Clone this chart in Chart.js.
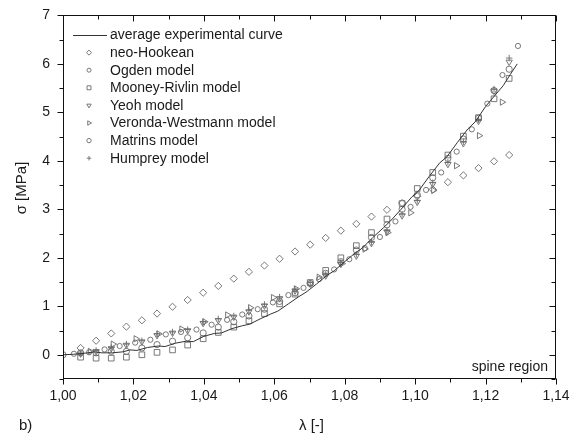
<!DOCTYPE html>
<html><head><meta charset="utf-8">
<script src="https://cdn.jsdelivr.net/npm/chart.js@4.4.1/dist/chart.umd.min.js"></script>
<style>html,body{margin:0;padding:0;background:#fff}canvas{display:block}</style>
</head><body>
<canvas id="c" width="577" height="441"></canvas>
<script>
// ---- data ----
const expLambda = [1.000,1.003,1.006,1.009,1.011,1.014,1.017,1.019,1.021,1.024,1.027,1.029,1.032,1.035,1.037,1.040,1.043,1.045,1.048,1.051,1.053,1.056,1.059,1.061,1.064,1.067,1.069,1.072,1.075,1.077,1.080,1.083,1.085,1.088,1.091,1.093,1.096,1.099,1.101,1.104,1.107,1.109,1.112,1.115,1.117,1.120,1.123,1.125,1.127,1.129];
const expSigma  = [0.00,0.01,0.03,0.06,0.04,0.04,0.06,0.10,0.09,0.15,0.18,0.17,0.24,0.28,0.27,0.38,0.44,0.45,0.54,0.60,0.63,0.74,0.84,0.90,1.05,1.20,1.29,1.46,1.64,1.73,1.92,2.10,2.20,2.42,2.62,2.76,3.00,3.25,3.38,3.68,3.96,4.08,4.38,4.66,4.80,5.12,5.38,5.55,5.78,6.00];

const gridLambda = [1.0050,1.0094,1.0137,1.0180,1.0224,1.0267,1.0311,1.0354,1.0398,1.0441,1.0485,1.0528,1.0572,1.0615,1.0659,1.0702,1.0746,1.0789,1.0833,1.0876,1.0920,1.0963,1.1006,1.1050,1.1093,1.1137,1.1180,1.1224,1.1267];
const neoHookean   = [0.14,0.29,0.44,0.58,0.71,0.85,0.99,1.13,1.28,1.42,1.57,1.71,1.84,1.98,2.13,2.27,2.41,2.56,2.70,2.85,2.99,3.13,3.27,3.41,3.56,3.70,3.85,3.99,4.12];
const mooneyRivlin = [-0.05,-0.07,-0.07,-0.05,0.00,0.05,0.10,0.20,0.33,0.46,0.57,0.70,0.85,1.05,1.25,1.49,1.74,2.00,2.25,2.52,2.80,3.12,3.43,3.76,4.12,4.51,4.89,5.28,5.70];
const yeoh         = [0.02,0.07,0.13,0.20,0.27,0.40,0.45,0.50,0.65,0.71,0.78,0.89,1.01,1.16,1.32,1.46,1.63,1.87,2.04,2.30,2.54,2.87,3.15,3.52,3.93,4.36,4.82,5.44,6.04];
const humprey      = [0.03,0.09,0.15,0.22,0.29,0.43,0.47,0.52,0.68,0.74,0.80,0.92,1.04,1.19,1.35,1.49,1.66,1.90,2.07,2.32,2.56,2.90,3.18,3.55,3.97,4.39,4.85,5.48,6.12];
const matrinsLambda = [1.0000,1.0050,1.0094,1.0137,1.0180,1.0224,1.0267,1.0311,1.0354,1.0398,1.0441,1.0485,1.0528,1.0572,1.0615,1.0659,1.0702,1.0746,1.0789,1.0833,1.0876,1.0920,1.0963,1.1006,1.1050,1.1093,1.1137,1.1180,1.1224,1.1267];
const matrins      = [0.00,0.04,0.04,0.07,0.07,0.14,0.21,0.28,0.35,0.45,0.57,0.68,0.80,0.94,1.10,1.28,1.47,1.68,1.92,2.16,2.42,2.68,3.00,3.30,3.65,4.05,4.45,4.88,5.45,5.89];

const ogdenLambda = [1.0031,1.0074,1.0118,1.0161,1.0205,1.0248,1.0292,1.0335,1.0379,1.0422,1.0466,1.0509,1.0553,1.0596,1.0640,1.0683,1.0727,1.0770,1.0813,1.0857,1.0900,1.0944,1.0987,1.1031,1.1074,1.1118,1.1161,1.1205,1.1248,1.1292];
const ogden       = [0.02,0.05,0.11,0.18,0.25,0.31,0.42,0.47,0.52,0.62,0.72,0.83,0.94,1.08,1.23,1.38,1.56,1.76,1.97,2.20,2.43,2.75,3.05,3.40,3.76,4.19,4.65,5.18,5.77,6.37];

const vwLambda = [1.0077,1.0142,1.0207,1.0272,1.0337,1.0402,1.0467,1.0532,1.0597,1.0662,1.0727,1.0792,1.0857,1.0922,1.0987,1.1052,1.1117,1.1182,1.1247];
const verondaWestmann = [0.07,0.22,0.33,0.43,0.53,0.68,0.82,0.97,1.18,1.36,1.60,1.88,2.18,2.52,2.93,3.39,3.90,4.52,5.21];

const xTickValues = [1.00,1.02,1.04,1.06,1.08,1.10,1.12,1.14];
const xTickLabels = ['1,00','1,02','1,04','1,06','1,08','1,10','1,12','1,14'];
const yTickValues = [0,1,2,3,4,5,6,7];
const yTickLabels = ['0','1','2','3','4','5','6','7'];

// ---- chart ----
const FONT = '"Liberation Sans", Arial, Helvetica, sans-serif';
const MK = '#6a6a6a';
const pts = (xs, ys) => xs.map((x, i) => ({x, y: ys[i]}));
function markerSet(label, xs, ys, style, radius, rotation) {
  return { label, data: pts(xs, ys), pointStyle: style, pointRadius: radius, pointRotation: rotation || 0,
    borderColor: MK, backgroundColor: 'rgba(255,255,255,0)', pointBorderWidth: 0.9, showLine: false,
    legendRadius: Math.max(2, radius * 0.7) };
}
const datasets = [
  { label: 'average experimental curve', data: pts(expLambda, expSigma), showLine: true, pointRadius: 0,
    borderColor: '#333333', borderWidth: 1, tension: 0, isLine: true },
  markerSet('neo-Hookean', gridLambda, neoHookean, 'rectRot', 3.6),
  markerSet('Ogden model', ogdenLambda, ogden, 'circle', 2.6),
  markerSet('Mooney-Rivlin model', gridLambda, mooneyRivlin, 'rect', 4.0),
  markerSet('Yeoh model', gridLambda, yeoh, 'triangle', 3.6, 180),
  markerSet('Veronda-Westmann model', vwLambda, verondaWestmann, 'triangle', 3.6, 90),
  markerSet('Matrins model', matrinsLambda, matrins, 'circle', 3.1),
  markerSet('Humprey model', gridLambda, humprey, 'cross', 3.2)
];

function findLabel(vals, labels, v) {
  for (let i = 0; i < vals.length; i++) if (Math.abs(vals[i] - v) < 1e-6) return labels[i];
  return '';
}

const decorPlugin = {
  id: 'decor',
  afterDraw(chart) {
    const {ctx, chartArea: a, scales: {x, y}} = chart;
    ctx.save();
    ctx.strokeStyle = '#111'; ctx.lineWidth = 1;
    const L = Math.round(a.left) + 0.5, R = Math.round(a.right) - 0.5, T = Math.round(a.top) + 0.5, B = Math.round(a.bottom) - 0.5;
    ctx.strokeRect(L, T, R - L, B - T);
    ctx.beginPath();
    for (let i = 0; i <= 14; i++) {
      const v = 1 + i * 0.01;
      const px = Math.round(x.getPixelForValue(v)) + 0.5;
      const major = i % 2 === 0;
      ctx.moveTo(px, B); ctx.lineTo(px, B + (major ? 6 : 4));
      ctx.moveTo(px, T); ctx.lineTo(px, T + (major ? 6 : 4));
    }
    for (let i = 0; i <= 15; i++) {
      const v = -0.5 + i * 0.5;
      const py = Math.round(y.getPixelForValue(v)) + 0.5;
      const major = Math.abs(v - Math.round(v)) < 1e-6;
      ctx.moveTo(L, py); ctx.lineTo(L - (major ? 6 : 4), py);
      ctx.moveTo(R, py); ctx.lineTo(R - (major ? 6 : 4), py);
    }
    ctx.stroke();

    // legend
    ctx.font = '14px ' + FONT;
    ctx.textBaseline = 'middle';
    ctx.textAlign = 'left';
    chart.data.datasets.forEach((ds, i) => {
      const yy = 35 + i * 17.6;
      if (ds.isLine) {
        ctx.strokeStyle = '#333'; ctx.lineWidth = 1;
        ctx.beginPath(); ctx.moveTo(73, Math.round(yy) + 0.5); ctx.lineTo(107, Math.round(yy) + 0.5); ctx.stroke();
      } else {
        ctx.strokeStyle = MK; ctx.lineWidth = 0.9;
        ctx.fillStyle = 'rgba(255,255,255,0)';
        Chart.helpers.drawPoint(ctx, {pointStyle: ds.pointStyle, rotation: ds.pointRotation, radius: ds.legendRadius, borderWidth: 0.9}, 89, yy);
      }
      ctx.fillStyle = '#1a1a1a';
      ctx.fillText(ds.label, 110, yy + 0.5);
    });

    // texts
    ctx.fillStyle = '#1a1a1a';
    ctx.textAlign = 'right';
    ctx.fillText('spine region', a.right - 8, a.bottom - 12);
    ctx.font = '15px ' + FONT;
    ctx.textAlign = 'left';
    ctx.fillText('b)', 19, 426);
    ctx.textAlign = 'center';
    ctx.fillText('\u03bb [-]', (a.left + a.right) / 2 + 2, 426);
    ctx.save();
    ctx.translate(22, 188);
    ctx.rotate(-Math.PI / 2);
    ctx.fillText('\u03c3 [MPa]', 0, 0);
    ctx.restore();
    ctx.restore();
  }
};

new Chart(document.getElementById('c'), {
  type: 'scatter',
  data: { datasets },
  options: {
    responsive: false, animation: false, devicePixelRatio: 1,
    layout: { padding: { top: 14, right: 21, left: 0, bottom: 0 } },
    plugins: { legend: { display: false }, tooltip: { enabled: false } },
    scales: {
      x: {
        type: 'linear', min: 1.0, max: 1.14,
        grid: { display: false, drawTicks: true, tickLength: 6 },
        border: { display: false },
        ticks: { stepSize: 0.01, autoSkip: false, maxRotation: 0, padding: 3, color: '#1a1a1a',
          font: { family: FONT, size: 14 },
          callback: (v) => findLabel(xTickValues, xTickLabels, v) },
        afterFit: (s) => { s.height = 62; }
      },
      y: {
        type: 'linear', min: -0.5, max: 7,
        grid: { display: false, drawTicks: true, tickLength: 6 },
        border: { display: false },
        ticks: { stepSize: 0.5, autoSkip: false, padding: 7, color: '#1a1a1a',
          font: { family: FONT, size: 14 },
          callback: (v) => findLabel(yTickValues, yTickLabels, v) },
        afterFit: (s) => { s.width = 63; }
      }
    }
  },
  plugins: [decorPlugin]
});
</script>
</body></html>
